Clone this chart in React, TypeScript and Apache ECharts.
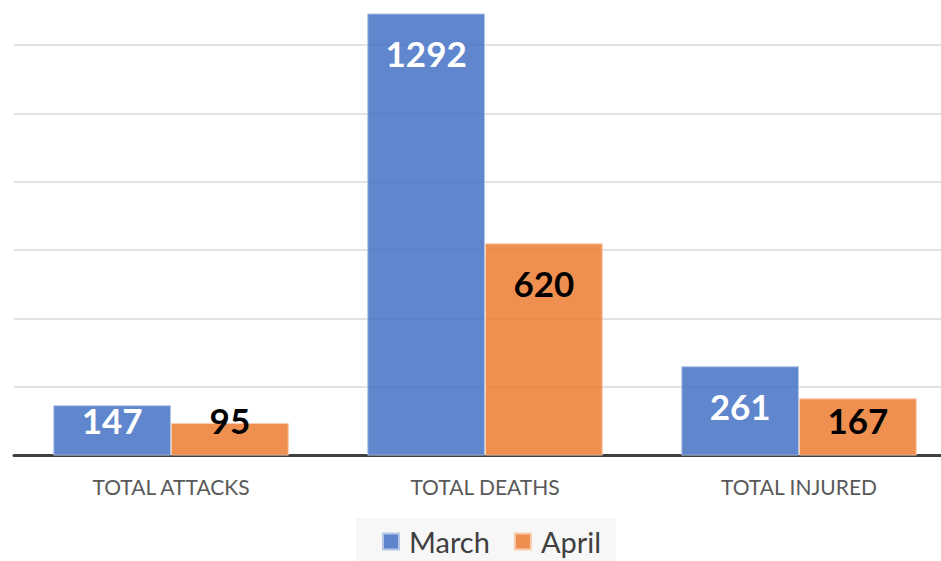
import React, { useEffect, useRef } from "react";
import * as echarts from "echarts";

const categories = ["TOTAL ATTACKS", "TOTAL DEATHS", "TOTAL INJURED"];
const marchValues = [147, 1292, 261];
const aprilValues = [95, 620, 167];
const seriesNames = ["March", "April"];
const yMax = 1400;
const yInterval = 200;

// The chart canvas is larger than the visible 941x561 frame and is clipped.
const OFF_X = 0;
const OFF_Y = 30;
const CANVAS_W = 970;
const CANVAS_H = 591;
const PLOT_LEFT = 14;
const PLOT_WIDTH = 942;
const PLOT_TOP = -23.5 + OFF_Y;
const PLOT_HEIGHT = 479;
const FONT = "Lato, 'Open Sans', sans-serif";

function labelFor(v: number, color: string) {
  const h = (v * PLOT_HEIGHT) / yMax;
  const base = {
    show: true,
    color,
    fontFamily: FONT,
    fontWeight: "bold" as const,
    fontSize: 35,
    verticalAlign: "middle" as const,
    align: "center" as const,
  };
  if (h - 40 >= 36) {
    return { ...base, position: "insideTop", distance: 40 };
  }
  return { ...base, position: "insideBottom", distance: 36 };
}

export default function App() {
  const ref = useRef<HTMLDivElement>(null);
  useEffect(() => {
    if (!ref.current) return;
    const chart = echarts.init(ref.current, undefined, { renderer: "svg" });
    chart.setOption({
      animation: false,
      backgroundColor: "#ffffff",
      grid: {
        left: PLOT_LEFT + OFF_X,
        width: PLOT_WIDTH,
        top: PLOT_TOP,
        height: PLOT_HEIGHT,
      },
      legend: {
        data: seriesNames,
        left: 356 + OFF_X,
        top: 518 + OFF_Y,
        backgroundColor: "#f7f7f7",
        padding: [9, 15, 14, 26],
        itemWidth: 16,
        itemHeight: 16,
        itemGap: 24,
        icon: "rect",
        textStyle: {
          fontFamily: FONT,
          fontSize: 29,
          color: "#404040",
          padding: [0, 0, 0, 5],
        },
      },
      xAxis: {
        type: "category",
        data: categories,
        axisTick: { show: false },
        axisLine: { lineStyle: { color: "#404040", width: 3 } },
        axisLabel: {
          margin: 20,
          fontFamily: FONT,
          fontSize: 21,
          color: "#595959",
        },
      },
      yAxis: {
        type: "value",
        min: 0,
        max: yMax,
        interval: yInterval,
        axisLabel: { show: false },
        axisLine: { show: false },
        axisTick: { show: false },
        splitLine: { lineStyle: { color: "#d9d9d9", width: 1.5 } },
      },
      series: [
        {
          name: seriesNames[0],
          type: "bar",
          barGap: "0%",
          barCategoryGap: "25%",
          itemStyle: {
            color: "rgba(68,114,196,0.85)",
            borderColor: "#b4c7e7",
            borderWidth: 1,
          },
          data: marchValues.map((v) => ({ value: v, label: labelFor(v, "#ffffff") })),
        },
        {
          name: seriesNames[1],
          type: "bar",
          barGap: "0%",
          barCategoryGap: "25%",
          itemStyle: {
            color: "rgba(237,125,49,0.85)",
            borderColor: "#f8cbad",
            borderWidth: 1,
          },
          data: aprilValues.map((v) => ({ value: v, label: labelFor(v, "#000000") })),
        },
      ],
    });
    return () => chart.dispose();
  }, []);
  return (
    <div
      style={{
        position: "absolute",
        left: 0,
        top: 0,
        width: 941,
        height: 561,
        overflow: "hidden",
        background: "#ffffff",
      }}
    >
      <div
        ref={ref}
        style={{
          position: "absolute",
          left: -OFF_X,
          top: -OFF_Y,
          width: CANVAS_W,
          height: CANVAS_H,
        }}
      />
    </div>
  );
}
